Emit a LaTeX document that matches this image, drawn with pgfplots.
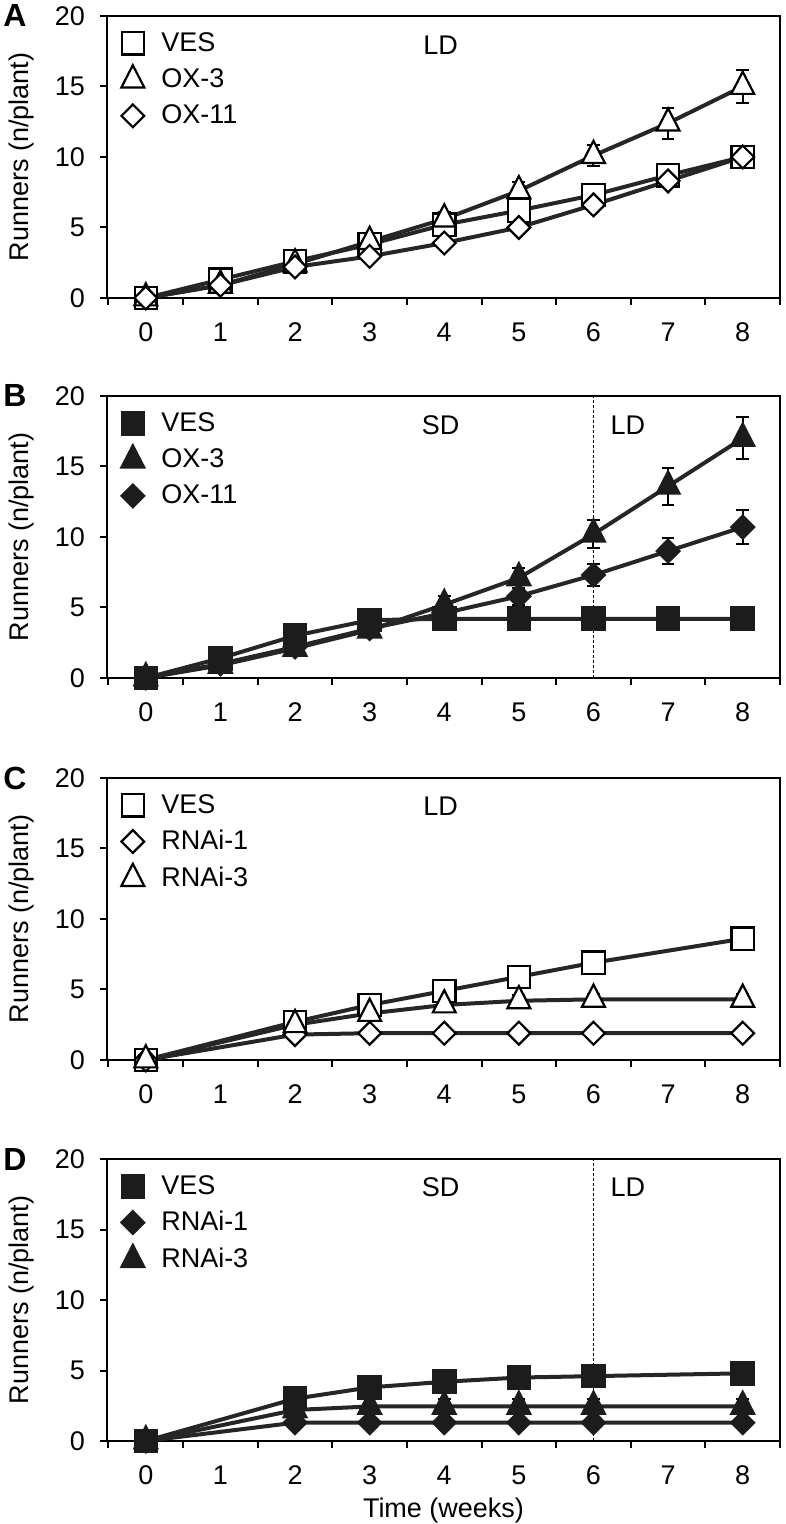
\documentclass[border=0pt]{standalone}
\usepackage{fontspec}
\setmainfont{Liberation Sans}
\usepackage{pgfplots}
\pgfplotsset{compat=1.18}
\definecolor{lc}{HTML}{262626}
\definecolor{mk}{HTML}{1C1C1C}
\newcommand{\fs}{\fontsize{13.5}{16}\selectfont}
\tikzset{letter/.style={anchor=west, inner sep=0pt, xshift=-52pt, font=\bfseries\fontsize{16}{18}\selectfont}}
\pgfplotsset{
  panel/.style={
    scale only axis, width=336.5pt, height=141pt,
    at={(53.5pt,#1)}, anchor=south west,
    xmin=-0.52, xmax=8.5, ymin=0, ymax=20,
    ytick={0,5,10,15,20},
    xtick={-0.5,0.5,...,8.5}, xticklabels={},
    extra x ticks={0,1,2,3,4,5,6,7,8},
    extra x tick labels={0,1,2,3,4,5,6,7,8},
    extra x tick style={major tick length=0pt},
    tick pos=left, tick align=outside, major tick length=3.5pt,
    axis line style={line width=1.2pt, black},
    every tick/.style={black, line width=1pt},
    clip=false,
    /pgf/number format/assume math mode=true,
    tick label style={font=\fs},
    xticklabel style={yshift=-9pt},
    yticklabel style={xshift=-4pt},
    ylabel={Runners (n/plant)},
    ylabel style={font=\fs, at={(axis description cs:-0.127,0.5)}, anchor=center},
    xlabel style={font=\fs, at={(axis description cs:0.5,0)}, yshift=-35pt, anchor=center},
    legend style={draw=none, fill=none, at={(axis description cs:0,1)}, anchor=north west,
      xshift=4pt, yshift=-4.5pt, font=\fs, row sep=4pt, column sep=7pt,
      nodes={inner sep=1.5pt}},
    legend cell align=left,
    legend image code/.code={\draw[##1] plot coordinates {(0pt,0pt)};},
  },
  ln/.style={draw=lc, line width=2pt, no markers, forget plot},
  mk/.style={only marks,
    error bars/y dir=both, error bars/y explicit,
    error bars/error bar style={line width=1pt, black},
    error bars/error mark options={rotate=90, mark size=3.2pt, line width=1pt, black}},
  osq/.style={mark=square*, mark size=5.6pt, mark options={fill=white, draw=black, line width=1.1pt}},
  otr/.style={mark=triangle*, mark size=6.6pt, mark options={fill=white, draw=black, line width=1.1pt, yscale=1.12}},
  odi/.style={mark=diamond*, mark size=5.7pt, mark options={fill=white, draw=black, line width=1.1pt, xscale=1.33}},
  fsq/.style={mark=square*, mark size=5.6pt, mark options={fill=mk, draw=mk, line width=1.1pt}},
  ftr/.style={mark=triangle*, mark size=6.6pt, mark options={fill=mk, draw=mk, line width=1.1pt, yscale=1.12}},
  fdi/.style={mark=diamond*, mark size=5.7pt, mark options={fill=mk, draw=mk, line width=1.1pt, xscale=1.33}},
}
\begin{document}
\begin{tikzpicture}
\path[use as bounding box] (0,0) rectangle (393pt,762pt);
% ---------------- Panel A
\begin{axis}[panel=613pt]
\addplot[ln] coordinates {(0,0) (1,1.3) (2,2.6) (3,3.8) (4,5.2) (5,6.2) (6,7.3) (7,8.7) (8,10.0)};
\addplot[ln] coordinates {(0,0) (1,0.9) (2,2.4) (3,4.0) (4,5.6) (5,7.6) (6,10.1) (7,12.4) (8,15.0)};
\addplot[ln] coordinates {(0,0) (1,0.9) (2,2.2) (3,2.95) (4,3.9) (5,5.0) (6,6.6) (7,8.3) (8,10.0)};
\addplot[mk, osq] coordinates {(0,0) +- (0,0.1) (1,1.3) +- (0,0.3) (2,2.6) +- (0,0.3) (3,3.8) +- (0,0.3) (4,5.2) +- (0,0.5) (5,6.2) +- (0,0.8) (6,7.3) +- (0,0.4) (7,8.7) +- (0,0.5) (8,10.0) +- (0,0.5)};
\addlegendentry{VES}
\addplot[mk, otr] coordinates {(0,0) +- (0,0.1) (1,0.9) +- (0,0.2) (2,2.4) +- (0,0.2) (3,4.0) +- (0,0.3) (4,5.6) +- (0,0.5) (5,7.6) +- (0,0.6) (6,10.1) +- (0,0.75) (7,12.4) +- (0,1.1) (8,15.0) +- (0,1.2)};
\addlegendentry{OX-3}
\addplot[mk, odi] coordinates {(0,0) +- (0,0.1) (1,0.9) +- (0,0.2) (2,2.2) +- (0,0.2) (3,2.95) +- (0,0.2) (4,3.9) +- (0,0.3) (5,5.0) +- (0,0.3) (6,6.6) +- (0,0.4) (7,8.3) +- (0,0.4) (8,10.0) +- (0,0.4)};
\addlegendentry{OX-11}
\node[font=\fs] at (axis cs:3.95,17.9) {LD};
\node[letter] at (rel axis cs:0,1) {A};
\end{axis}
% ---------------- Panel B
\begin{axis}[panel=423pt]
\addplot[black, line width=0.6pt, dash pattern=on 1.5pt off 1pt, forget plot] coordinates {(6,0) (6,20)};
\addplot[ln] coordinates {(0,0) (1,1.4) (2,3.0) (3,4.1) (4,4.2) (5,4.2) (6,4.2) (7,4.2) (8,4.2)};
\addplot[ln] coordinates {(0,0) (1,0.9) (2,2.1) (3,3.4) (4,5.2) (5,7.1) (6,10.2) (7,13.6) (8,17.0)};
\addplot[ln] coordinates {(0,0) (1,1.0) (2,2.2) (3,3.5) (4,4.6) (5,5.8) (6,7.3) (7,9.0) (8,10.7)};
\addplot[mk, fsq] coordinates {(0,0) +- (0,0.1) (1,1.4) +- (0,0.2) (2,3.0) +- (0,0.3) (3,4.1) +- (0,0.3) (4,4.2) +- (0,0.2) (5,4.2) +- (0,0.2) (6,4.2) +- (0,0.2) (7,4.2) +- (0,0.2) (8,4.2) +- (0,0.2)};
\addlegendentry{VES}
\addplot[mk, ftr] coordinates {(0,0) +- (0,0.1) (1,0.9) +- (0,0.2) (2,2.1) +- (0,0.3) (3,3.4) +- (0,0.3) (4,5.2) +- (0,0.6) (5,7.1) +- (0,0.7) (6,10.2) +- (0,1.0) (7,13.6) +- (0,1.3) (8,17.0) +- (0,1.5)};
\addlegendentry{OX-3}
\addplot[mk, fdi] coordinates {(0,0) +- (0,0.1) (1,1.0) +- (0,0.2) (2,2.2) +- (0,0.2) (3,3.5) +- (0,0.3) (4,4.6) +- (0,0.4) (5,5.8) +- (0,0.6) (6,7.3) +- (0,0.75) (7,9.0) +- (0,0.9) (8,10.7) +- (0,1.2)};
\addlegendentry{OX-11}
\node[font=\fs] at (axis cs:3.95,17.9) {SD};
\node[font=\fs] at (axis cs:6.46,17.9) {LD};
\node[letter] at (rel axis cs:0,1) {B};
\end{axis}
% ---------------- Panel C
\begin{axis}[panel=232pt]
\addplot[ln] coordinates {(0,0) (2,2.7) (3,3.9) (4,4.9) (5,5.9) (6,6.9) (8,8.6)};
\addplot[ln] coordinates {(0,0) (2,1.8) (3,1.9) (4,1.9) (5,1.9) (6,1.9) (8,1.9)};
\addplot[ln] coordinates {(0,0) (2,2.5) (3,3.3) (4,3.9) (5,4.2) (6,4.3) (8,4.3)};
\addplot[mk, osq] coordinates {(0,0) +- (0,0.1) (2,2.7) +- (0,0.2) (3,3.9) +- (0,0.2) (4,4.9) +- (0,0.3) (5,5.9) +- (0,0.3) (6,6.9) +- (0,0.3) (8,8.6) +- (0,0.3)};
\addlegendentry{VES}
\addplot[mk, odi] coordinates {(0,0) +- (0,0.1) (2,1.8) +- (0,0.1) (3,1.9) +- (0,0.1) (4,1.9) +- (0,0.1) (5,1.9) +- (0,0.1) (6,1.9) +- (0,0.1) (8,1.9) +- (0,0.1)};
\addlegendentry{RNAi-1}
\addplot[mk, otr] coordinates {(0,0) +- (0,0.1) (2,2.5) +- (0,0.3) (3,3.3) +- (0,0.3) (4,3.9) +- (0,0.4) (5,4.2) +- (0,0.4) (6,4.3) +- (0,0.4) (8,4.3) +- (0,0.4)};
\addlegendentry{RNAi-3}
\node[font=\fs] at (axis cs:3.95,18.0) {LD};
\node[letter] at (rel axis cs:0,1) {C};
\end{axis}
% ---------------- Panel D
\begin{axis}[panel=41.5pt, xlabel={Time (weeks)}]
\addplot[black, line width=0.6pt, dash pattern=on 1.5pt off 1pt, forget plot] coordinates {(6,0) (6,20)};
\addplot[ln] coordinates {(0,0) (2,3.0) (3,3.8) (4,4.2) (5,4.5) (6,4.6) (8,4.8)};
\addplot[ln] coordinates {(0,0) (2,1.3) (3,1.3) (4,1.3) (5,1.3) (6,1.3) (8,1.3)};
\addplot[ln] coordinates {(0,0) (2,2.2) (3,2.45) (4,2.45) (5,2.45) (6,2.45) (8,2.45)};
\addplot[mk, fsq] coordinates {(0,0) +- (0,0.1) (2,3.0) +- (0,0.3) (3,3.8) +- (0,0.4) (4,4.2) +- (0,0.4) (5,4.5) +- (0,0.3) (6,4.6) +- (0,0.3) (8,4.8) +- (0,0.4)};
\addlegendentry{VES}
\addplot[mk, fdi] coordinates {(0,0) +- (0,0.1) (2,1.3) +- (0,0.3) (3,1.3) +- (0,0.3) (4,1.3) +- (0,0.3) (5,1.3) +- (0,0.3) (6,1.3) +- (0,0.3) (8,1.3) +- (0,0.3)};
\addlegendentry{RNAi-1}
\addplot[mk, ftr] coordinates {(0,0) +- (0,0.1) (2,2.2) +- (0,0.4) (3,2.45) +- (0,0.5) (4,2.45) +- (0,0.5) (5,2.45) +- (0,0.5) (6,2.45) +- (0,0.5) (8,2.45) +- (0,0.5)};
\addlegendentry{RNAi-3}
\node[font=\fs] at (axis cs:3.95,18.0) {SD};
\node[font=\fs] at (axis cs:6.46,18.0) {LD};
\node[letter] at (rel axis cs:0,1) {D};
\end{axis}
\end{tikzpicture}
\end{document}
